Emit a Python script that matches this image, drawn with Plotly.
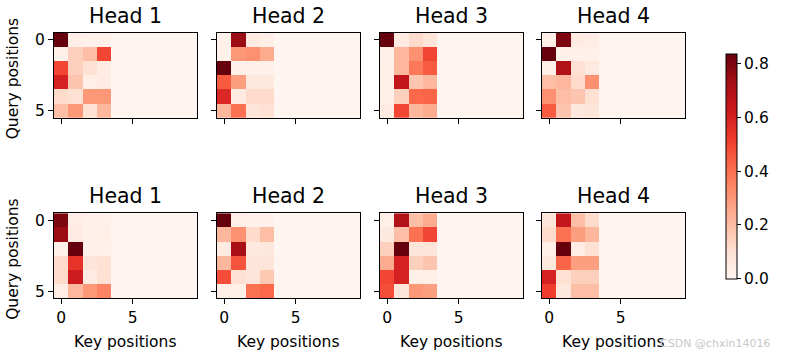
import plotly.graph_objects as go

# ---- data: attention weights (6 queries x 10 keys; keys 4..9 are zero) ----
key_positions = list(range(10))
query_positions = list(range(6))
titles = ["Head 1", "Head 2", "Head 3", "Head 4"]
tick_vals_x = [0, 5]
tick_vals_y = [0, 5]

r1h1 = [[0.84, 0.03, 0.02, 0.02],
        [0.02, 0.15, 0.20, 0.50],
        [0.50, 0.15, 0.10, 0.05],
        [0.60, 0.18, 0.03, 0.05],
        [0.12, 0.10, 0.30, 0.30],
        [0.20, 0.30, 0.10, 0.22]]
r1h2 = [[0.02, 0.75, 0.05, 0.03],
        [0.02, 0.30, 0.32, 0.25],
        [0.84, 0.02, 0.02, 0.02],
        [0.45, 0.28, 0.06, 0.06],
        [0.58, 0.05, 0.12, 0.12],
        [0.22, 0.40, 0.08, 0.10]]
r1h3 = [[0.84, 0.05, 0.12, 0.08],
        [0.02, 0.22, 0.32, 0.50],
        [0.03, 0.22, 0.38, 0.45],
        [0.03, 0.65, 0.18, 0.22],
        [0.03, 0.15, 0.42, 0.43],
        [0.05, 0.50, 0.22, 0.25]]
r1h4 = [[0.03, 0.80, 0.05, 0.04],
        [0.84, 0.02, 0.02, 0.02],
        [0.03, 0.70, 0.10, 0.06],
        [0.20, 0.22, 0.12, 0.32],
        [0.32, 0.20, 0.18, 0.10],
        [0.45, 0.18, 0.07, 0.08]]
r2h1 = [[0.80, 0.04, 0.02, 0.02],
        [0.75, 0.05, 0.02, 0.03],
        [0.02, 0.84, 0.02, 0.02],
        [0.12, 0.55, 0.08, 0.10],
        [0.12, 0.62, 0.05, 0.10],
        [0.04, 0.22, 0.30, 0.35]]
r2h2 = [[0.84, 0.03, 0.02, 0.02],
        [0.22, 0.32, 0.12, 0.20],
        [0.05, 0.72, 0.06, 0.07],
        [0.22, 0.47, 0.08, 0.08],
        [0.48, 0.10, 0.08, 0.17],
        [0.03, 0.03, 0.40, 0.42]]
r2h3 = [[0.03, 0.70, 0.20, 0.25],
        [0.06, 0.20, 0.40, 0.50],
        [0.15, 0.84, 0.08, 0.08],
        [0.25, 0.60, 0.15, 0.18],
        [0.50, 0.60, 0.03, 0.03],
        [0.48, 0.08, 0.30, 0.28]]
r2h4 = [[0.08, 0.65, 0.20, 0.12],
        [0.12, 0.40, 0.28, 0.22],
        [0.03, 0.84, 0.04, 0.10],
        [0.06, 0.43, 0.28, 0.28],
        [0.60, 0.10, 0.15, 0.15],
        [0.52, 0.07, 0.20, 0.20]]

panels = [[r1h1, r1h2, r1h3, r1h4], [r2h1, r2h2, r2h3, r2h4]]
zmax = 0.837

W, H = 790, 359
col_px = [(54, 197), (217, 360), (380, 523), (542, 685)]
row_px = [(32, 118), (214, 300)]

def px(v):
    return v / W

def py(v):
    return 1 - v / H

def full_row(r):
    return list(r) + [0.0] * (len(key_positions) - len(r))

fig = go.Figure()
font = dict(family="DejaVu Sans", size=15.5, color="black")
annotations = []
n = 0
for ri, row in enumerate(panels):
    for ci, mat in enumerate(row):
        n += 1
        xa = "x" if n == 1 else f"x{n}"
        ya = "y" if n == 1 else f"y{n}"
        z = [full_row(r) for r in mat]
        fig.add_trace(go.Heatmap(z=z, x=key_positions, y=query_positions,
                                 coloraxis="coloraxis", xaxis=xa, yaxis=ya))
        x0, x1 = col_px[ci]
        y0, y1 = row_px[ri]
        axx = dict(domain=[px(x0), px(x1)], range=[-0.5, 9.5], anchor=ya,
                   tickvals=tick_vals_x, ticks="outside", ticklen=5,
                   tickcolor="black", showline=True, linecolor="black",
                   linewidth=1, mirror=True, showgrid=False, zeroline=False,
                   showticklabels=(ri == 1), tickfont=font)
        axy = dict(domain=[py(y1), py(y0)], range=[5.5, -0.5], anchor=xa,
                   tickvals=tick_vals_y, ticks="outside", ticklen=5,
                   tickcolor="black", showline=True, linecolor="black",
                   linewidth=1, mirror=True, showgrid=False, zeroline=False,
                   showticklabels=(ci == 0), tickfont=font)
        fig.update_layout(**{("xaxis" if n == 1 else f"xaxis{n}"): axx,
                             ("yaxis" if n == 1 else f"yaxis{n}"): axy})
        annotations.append(dict(text=titles[ci], x=px((x0 + x1) / 2),
                                y=py(y0 - 3), xref="paper", yref="paper",
                                xanchor="center", yanchor="bottom", showarrow=False,
                                font=dict(family="DejaVu Sans", size=20.5, color="black")))
        if ri == 1:
            annotations.append(dict(text="Key positions", x=px((x0 + x1) / 2),
                                    y=py(344), xref="paper", yref="paper",
                                    xanchor="center", yanchor="middle", showarrow=False,
                                    font=font))
    y0, y1 = row_px[ri]
    annotations.append(dict(text="Query positions", x=px(13), y=py((y0 + y1) / 2 + 3),
                            xref="paper", yref="paper", xanchor="center",
                            yanchor="middle", textangle=-90, showarrow=False, font=font))

annotations.append(dict(text="CSDN @chxin14016", x=px(772), y=py(345),
                        xref="paper", yref="paper", xanchor="right", yanchor="middle",
                        showarrow=False,
                        font=dict(family="DejaVu Sans", size=11, color="#c8c8c8")))

fig.update_layout(
    width=W, height=H, margin=dict(l=0, r=0, t=0, b=0),
    paper_bgcolor="white", plot_bgcolor="white",
    annotations=annotations,
    coloraxis=dict(colorscale="Reds", cmin=0, cmax=zmax,
                   colorbar=dict(x=px(726), xanchor="left", y=py(280),
                                 yanchor="bottom", len=227 / H, lenmode="fraction",
                                 thickness=11, outlinecolor="black", outlinewidth=1,
                                 ticks="outside", ticklen=4, tickcolor="black",
                                 tickvals=[0, 0.2, 0.4, 0.6, 0.8],
                                 ticktext=["0.0", "0.2", "0.4", "0.6", "0.8"],
                                 tickfont=font, xpad=0, ypad=0)),
)

# remove the page's default body margin so the figure fills the window
fig.write_html("out.html",
               config={"displayModeBar": False},
               post_script="document.body.style.margin='0';document.body.style.overflow='hidden';")
